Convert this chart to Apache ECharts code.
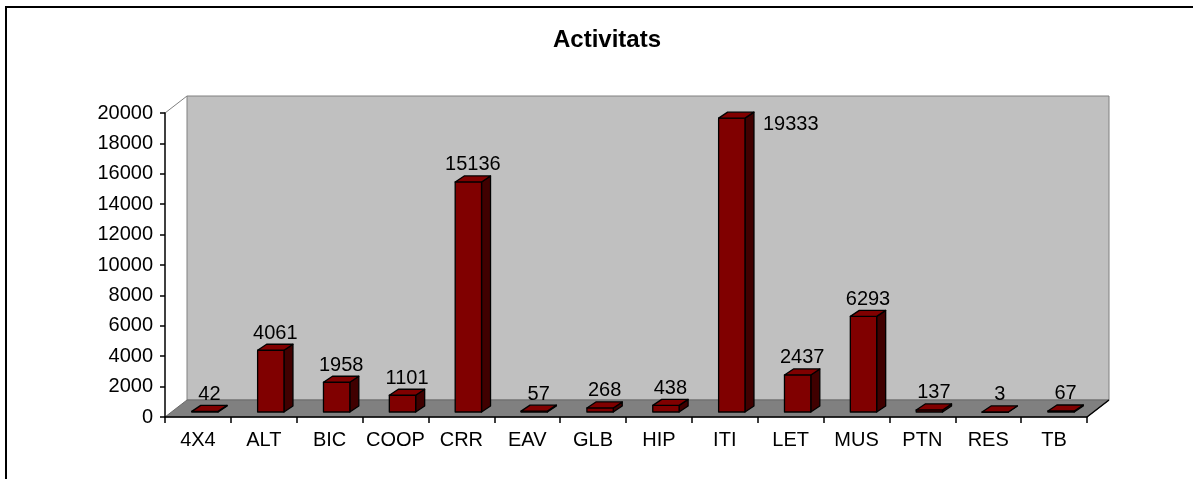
<!DOCTYPE html>
<html>
<head>
<meta charset="utf-8">
<script src="https://cdn.jsdelivr.net/npm/echarts@6/dist/echarts.min.js"></script>
<style>
html,body{margin:0;padding:0;background:#fff;}
#chart{width:1193px;height:479px;}
</style>
</head>
<body>
<div id="chart"></div>
<script>
const title = 'Activitats';
const categories = ['4X4','ALT','BIC','COOP','CRR','EAV','GLB','HIP','ITI','LET','MUS','PTN','RES','TB'];
const values = [42,4061,1958,1101,15136,57,268,438,19333,2437,6293,137,3,67];
const yMin = 0, yMax = 20000, yStep = 2000;

const FONT = "'Liberation Sans', Arial, sans-serif";
const WALL_DX = 22, WALL_DY = -17;

const chart = echarts.init(document.getElementById('chart'), null, {renderer: 'canvas'});

function renderWall(params, api) {
  const cs = params.coordSys;
  const x = cs.x, y = cs.y, w = cs.width, h = cs.height;
  return {
    type: 'group',
    children: [
      {type: 'rect', shape: {x: x + WALL_DX, y: y + WALL_DY, width: w, height: h},
       style: {fill: '#C0C0C0', stroke: '#808080', lineWidth: 1}},
      {type: 'line', shape: {x1: x, y1: y, x2: x + WALL_DX, y2: y + WALL_DY},
       style: {stroke: '#808080', lineWidth: 1}},
      {type: 'polygon', shape: {points: [[x, y + h], [x + WALL_DX, y + h + WALL_DY], [x + w + WALL_DX, y + h + WALL_DY], [x + w, y + h]]},
       style: {fill: '#808080', stroke: '#6a6a6a', lineWidth: 1}},
      {type: 'line', shape: {x1: x + w, y1: y + h, x2: x + w + WALL_DX, y2: y + h + WALL_DY},
       style: {stroke: '#000', lineWidth: 1.5}}
    ]
  };
}

function renderBar(params, api) {
  const i = api.value(0), v = api.value(1);
  const base = api.coord([i, 0]);
  const top = api.coord([i, v]);
  const band = api.size([1, 0])[0];
  const w = band * 0.4;
  const ox = 7, oy = -5, dx = 9, dy = -6;
  const xl = base[0] - w / 2 + ox, xr = xl + w;
  const yb = base[1] + oy, yt = top[1] + oy;
  const stroke = {stroke: '#000', lineWidth: 1.3, lineJoin: 'round'};
  const children = [
    {type: 'polygon', shape: {points: [[xr, yt], [xr + dx, yt + dy], [xr + dx, yb + dy], [xr, yb]]},
     style: Object.assign({fill: '#400000'}, stroke)},
    {type: 'rect', shape: {x: xl, y: yt, width: w, height: Math.max(yb - yt, 0.5)},
     style: Object.assign({fill: '#800000'}, stroke)},
    {type: 'polygon', shape: {points: [[xl, yt], [xl + dx, yt + dy], [xr + dx, yt + dy], [xr, yt]]},
     style: Object.assign({fill: '#800000'}, stroke)}
  ];
  const cs = params.coordSys;
  const labelY = yt + dy - 1;
  const txt = String(values[params.dataIndex]);
  if (labelY - 22 < cs.y + WALL_DY) {
    children.push({type: 'text', style: {text: txt, x: xr + dx + 9, y: yt - 4, align: 'left', verticalAlign: 'top',
      fill: '#000', font: '20px ' + FONT}});
  } else {
    children.push({type: 'text', style: {text: txt, x: (xl + xr) / 2 + dx / 2, y: labelY, align: 'center', verticalAlign: 'bottom',
      fill: '#000', font: '20px ' + FONT}});
  }
  return {type: 'group', children};
}

const option = {
  animation: false,
  backgroundColor: '#fff',
  title: {
    text: title, left: 602, top: 23, textAlign: 'center',
    textStyle: {fontFamily: FONT, fontSize: 24, fontWeight: 'bold', color: '#000'}
  },
  grid: {left: 165, right: 106, top: 113, bottom: 62, containLabel: false},
  xAxis: {
    type: 'category', data: categories,
    axisLine: {show: true, lineStyle: {color: '#000', width: 1.5}},
    axisTick: {show: true, length: 6, alignWithLabel: false, lineStyle: {color: '#000', width: 1.5}},
    axisLabel: {interval: 0, margin: 13, color: '#000', fontFamily: FONT, fontSize: 20},
    splitLine: {show: false}
  },
  yAxis: {
    type: 'value', min: yMin, max: yMax, interval: yStep,
    axisLine: {show: true, lineStyle: {color: '#000', width: 1.5}},
    axisTick: {show: true, length: 5, lineStyle: {color: '#000', width: 1.5}},
    axisLabel: {margin: 12, color: '#000', fontFamily: FONT, fontSize: 20, formatter: (v) => String(v)},
    splitLine: {show: false}
  },
  graphic: [{
    type: 'rect', z: 100, silent: true,
    shape: {x: 6, y: 7, width: 1250, height: 520},
    style: {fill: 'none', stroke: '#000', lineWidth: 2}
  }],
  series: [
    {type: 'custom', z: -1, renderItem: renderWall, data: [[0, 0]], silent: true, clip: false},
    {type: 'custom', z: 3, renderItem: renderBar, encode: {x: 0, y: 1},
     data: values.map((v, i) => [i, v]), clip: false}
  ]
};
chart.setOption(option);
</script>
</body>
</html>
